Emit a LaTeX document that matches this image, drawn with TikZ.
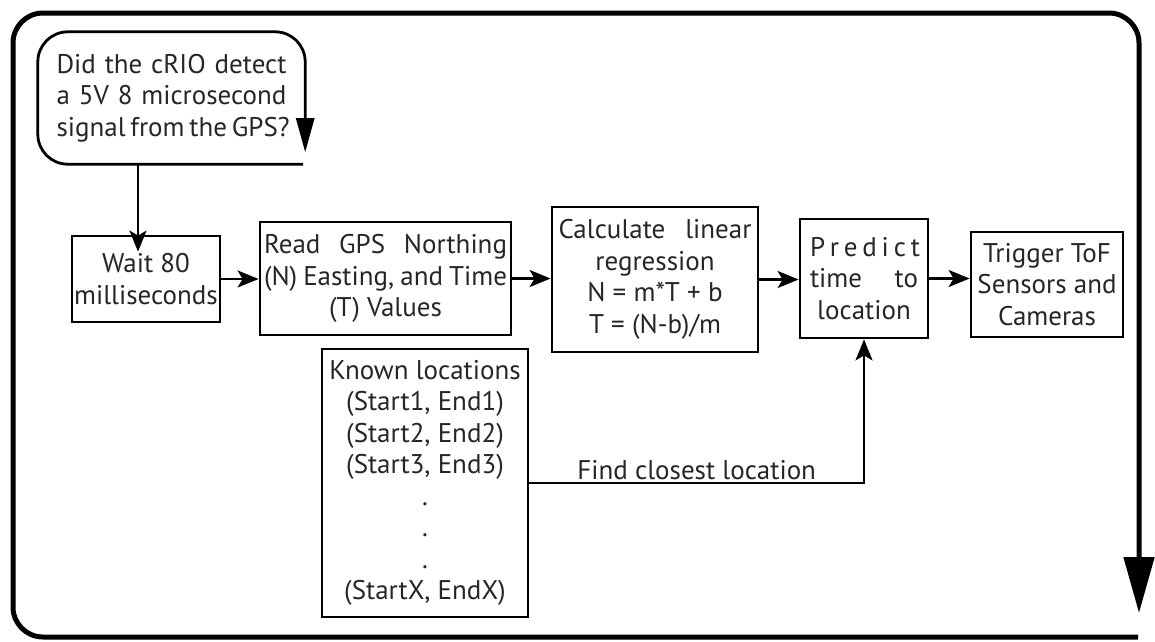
\documentclass[tikz,border=0pt]{standalone}
\usepackage{fontspec}
\setmainfont{PT Sans}
\usetikzlibrary{arrows.meta,calc}
\newcommand{\jl}[2]{\makebox[#1][s]{#2}}
\begin{document}
\begin{tikzpicture}[x=1pt,y=-1pt,
  txt/.style={font=\fontsize{27}{31.5}\selectfont, text=black!85},
  box/.style={txt, draw, line width=2.8pt, inner sep=0pt, align=center},
  arr/.style={line width=2.4pt, -{Stealth[length=21pt,width=17pt,inset=5pt]}},
]
\useasboundingbox (0,0) rectangle (1155,641);
\fill[white] (0,0) rectangle (1155,641);
% outer loop
\draw[line width=5pt, rounded corners=30pt, -{Triangle[length=56pt,width=30pt]}]
  (1138,637) -- (13,637) -- (13,13) -- (1139,13) -- (1139,613);
% decision
\node[txt, inner sep=0pt, minimum width=267pt, minimum height=132pt, align=center] (q) at (171.5,98)
  {\jl{230pt}{Did the cRIO detect}\\ \jl{230pt}{a 5V 8 microsecond}\\ \jl{230pt}{signal from the GPS?}};
\draw[line width=2.8pt, rounded corners=30pt, -{Triangle[length=34pt,width=18pt]}]
  ([xshift=-2pt]q.south east) -- (q.south west) -- (q.north west) -- (q.north east) -- ([yshift=12pt]q.south east);
% boxes
\node[box, minimum width=148pt, minimum height=86pt] (wait) at (146,279) {Wait 80\\milliseconds};
\node[box, minimum width=251pt, minimum height=113pt] (read) at (385.5,278.5)
  {\jl{243pt}{Read GPS Northing}\\ \jl{243pt}{(N) Easting, and Time}\\ (T) Values};
\node[box, minimum width=206pt, minimum height=145pt] (calc) at (655,279.5)
  {\jl{193pt}{Calculate linear}\\ regression\\ N = m*T + b\\ T = (N-b)/m};
\node[box, minimum width=128pt, minimum height=119pt] (pred) at (864,278.5)
  {\jl{108pt}{P r e d i c t}\\ \jl{108pt}{time to}\\ location};
\node[box, minimum width=152pt, minimum height=105pt] (trig) at (1047,284.5)
  {Trigger ToF\\ Sensors and\\ Cameras};
\node[box, minimum width=206pt, minimum height=268pt] (known) at (425,483)
  {Known locations\\ (Start1, End1)\\ (Start2, End2)\\ (Start3, End3)\\ .\\ .\\ .\\ (StartX, EndX)};
% connectors
\draw[arr, shorten >=-17pt] ([xshift=-33.5pt]q.south) -- ([xshift=-33.5pt]q.south |- wait.north);
\draw[arr] (wait.east) -- (wait.east -| read.west);
\draw[arr] (read.east) -- (read.east -| calc.west);
\draw[arr] (calc.east) -- (calc.east -| pred.west);
\draw[arr] (pred.east) -- (pred.east -| trig.west);
\draw[arr] (known.east) -| node[txt, pos=0.25, above=0pt, inner sep=2pt] (lbl) {Find closest location} (pred.south);
\end{tikzpicture}
\end{document}
